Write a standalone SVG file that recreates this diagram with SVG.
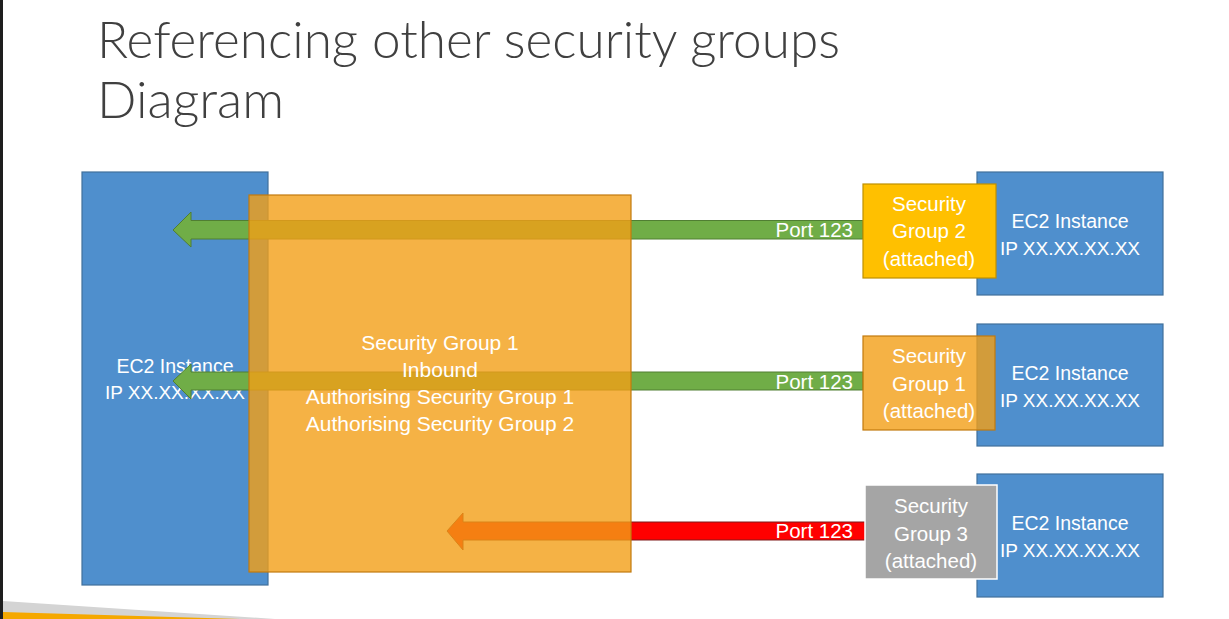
<svg xmlns="http://www.w3.org/2000/svg" width="1229" height="619" viewBox="0 0 1229 619">
<style>
.ec2{fill:#4F8FCD;stroke:#41719C;stroke-width:1.2}
.sgo{fill:#F29F16;fill-opacity:0.8;stroke:#C27A0E;stroke-width:1.2}
.t{font-family:"Liberation Sans",Arial,sans-serif;fill:#FFFFFF;text-anchor:middle}
.e{font-size:19px}
.s{font-size:20.5px}
.p{font-family:"Liberation Sans",Arial,sans-serif;fill:#FFFFFF;font-size:20.5px;text-anchor:end}
.ga{fill:#70AD47;stroke:#507E32;stroke-width:1}
.ra{fill:#FF0000;stroke:#7F1A1A;stroke-width:1}
</style>
<rect x="0" y="0" width="1229" height="619" fill="#FFFFFF"/>
<rect x="0" y="0" width="3" height="619" fill="#1E1E1E"/>
<polygon points="3,601 275,619 3,619" fill="#D4D4D4"/>
<polygon points="3,612 240,619 3,619" fill="#F5A800"/>
<g id="title" font-family="Lato,'Open Sans',sans-serif" font-weight="300" font-size="52" fill="#404040">
<text x="97" y="58" textLength="743" lengthAdjust="spacingAndGlyphs">Referencing other security groups</text>
<text x="97" y="118">Diagram</text>
</g>
<g id="ec2-left">
<rect class="ec2" x="82" y="172" width="186" height="413"/>
<text class="t" x="175" y="373" font-size="19.5">EC2 Instance</text>
<text class="t e" x="175" y="399">IP XX.XX.XX.XX</text>
</g>
<g id="connectors">
<polygon class="ga" points="173,230 191,212 191,220.5 863,220.5 863,239 191,239 191,247"/>
<polygon class="ga" points="173,381 191,364 191,372 863,372 863,390 191,390 191,399"/>
<polygon class="ra" points="447,531 463,513 463,522 866,522 866,540 463,540 463,550"/>
</g>
<g id="sg1-main">
<rect class="sgo" x="249" y="195" width="382" height="377"/>
<text class="t" x="440" y="350" font-size="21">Security Group 1</text>
<text class="t" x="440" y="377" font-size="21">Inbound</text>
<text class="t" x="440" y="404" font-size="21">Authorising Security Group 1</text>
<text class="t" x="440" y="431" font-size="21">Authorising Security Group 2</text>
</g>
<g id="port-labels">
<text class="p" x="853" y="237">Port 123</text>
<text class="p" x="853" y="389">Port 123</text>
<text class="p" x="853" y="538">Port 123</text>
</g>
<g id="ec2-right-1">
<rect class="ec2" x="977" y="172" width="186" height="123"/>
<text class="t" x="1070" y="228" font-size="19.5">EC2 Instance</text>
<text class="t e" x="1070" y="255">IP XX.XX.XX.XX</text>
</g>
<g id="ec2-right-2">
<rect class="ec2" x="977" y="324" width="186" height="122"/>
<text class="t" x="1070" y="380" font-size="19.5">EC2 Instance</text>
<text class="t e" x="1070" y="407">IP XX.XX.XX.XX</text>
</g>
<g id="ec2-right-3">
<rect class="ec2" x="977" y="474" width="186" height="123"/>
<text class="t" x="1070" y="530" font-size="19.5">EC2 Instance</text>
<text class="t e" x="1070" y="557">IP XX.XX.XX.XX</text>
</g>
<g id="sg2-attached">
<rect x="863" y="184" width="133" height="94" fill="#FFC000" stroke="#BF9000" stroke-width="1.2"/>
<text class="t s" x="929" y="211">Security</text>
<text class="t s" x="929" y="238">Group 2</text>
<text class="t s" x="929" y="266">(attached)</text>
</g>
<g id="sg1-attached">
<rect class="sgo" x="863" y="336" width="132" height="94"/>
<text class="t s" x="929" y="363">Security</text>
<text class="t s" x="929" y="391">Group 1</text>
<text class="t s" x="929" y="418">(attached)</text>
</g>
<g id="sg3-attached">
<rect x="865" y="485" width="132" height="94" fill="#A5A5A5" stroke="#FFFFFF" stroke-width="1.5"/>
<text class="t s" x="931" y="513">Security</text>
<text class="t s" x="931" y="541">Group 3</text>
<text class="t s" x="931" y="568">(attached)</text>
</g>
</svg>
